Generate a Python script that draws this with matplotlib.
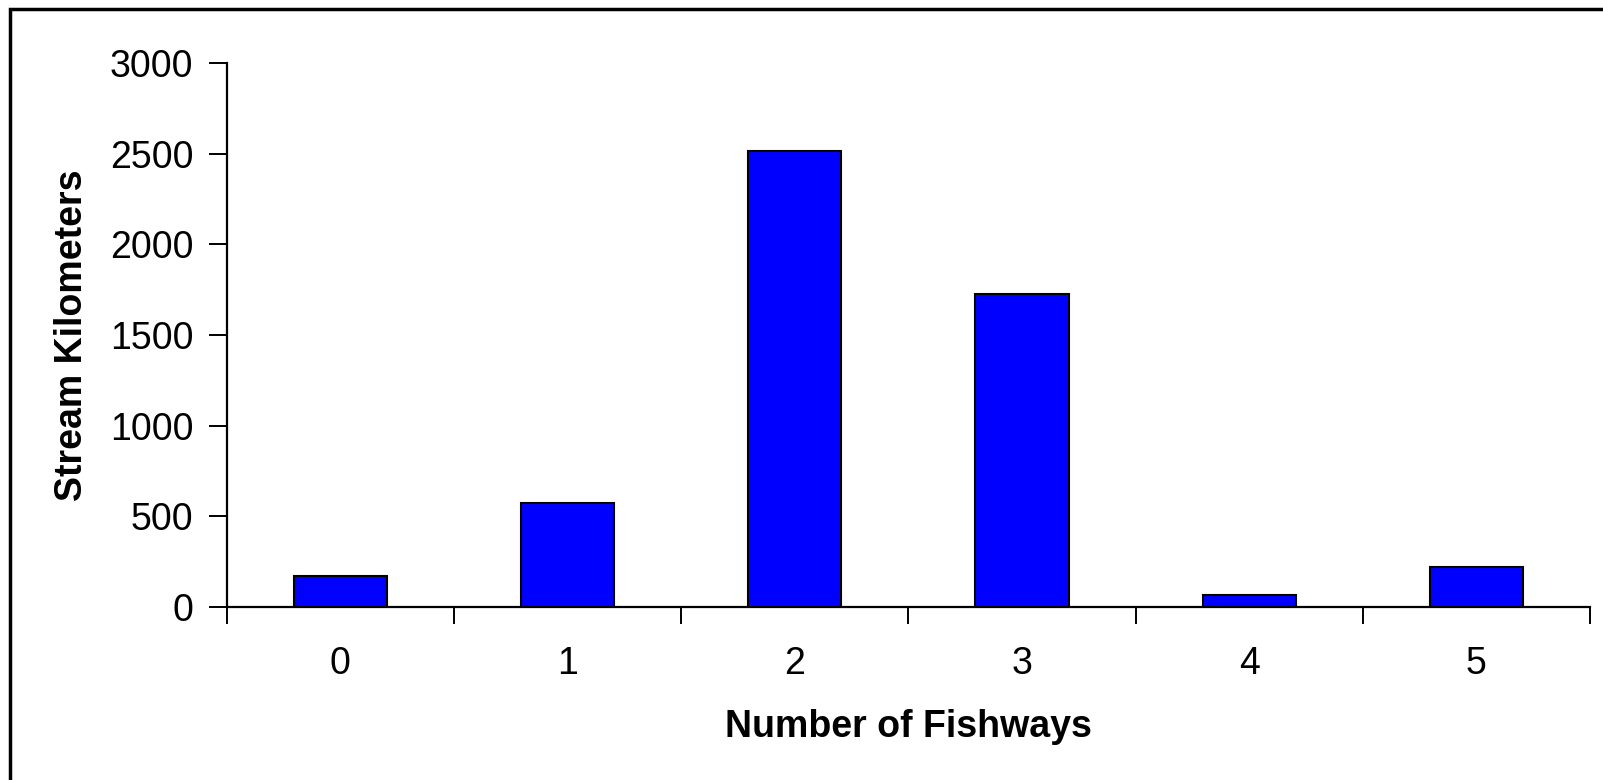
import numpy as np
import matplotlib
matplotlib.use("Agg")
import matplotlib.pyplot as plt
from matplotlib.patches import Rectangle

# values
fishways = ["0", "1", "2", "3", "4", "5"]
stream_km = [170, 571, 2516, 1725, 65, 221]
y_ticks = [0, 500, 1000, 1500, 2000, 2500, 3000]

plt.rcParams["font.family"] = ["Liberation Sans", "DejaVu Sans"]

fig = plt.figure(figsize=(16.03, 7.80), dpi=100)
ax = fig.add_axes([226.7 / 1603, 1 - 606.7 / 780, (1590 - 226.7) / 1603, (606.7 - 63.3) / 780])

x = np.arange(len(fishways))
ax.bar(x, stream_km, width=0.41, color="#0000ff", edgecolor="black", linewidth=1.5, zorder=3)

ax.set_xlim(-0.5, len(fishways) - 0.5)
ax.set_ylim(0, 3000)
ax.set_yticks(y_ticks)
ax.set_yticklabels([str(v) for v in y_ticks], fontsize=27)
ax.set_xticks(x)
ax.set_xticklabels(fishways, fontsize=27)
ax.set_xticks(np.arange(-0.5, len(fishways)), minor=True)

ax.tick_params(axis="y", direction="out", length=13, width=1.4, pad=11)
ax.tick_params(axis="x", which="major", length=0, pad=28)
ax.tick_params(axis="x", which="minor", direction="out", length=12, width=1.4)

for s in ["top", "right"]:
    ax.spines[s].set_visible(False)
for s in ["left", "bottom"]:
    ax.spines[s].set_linewidth(1.6)

ax.set_xlabel("Number of Fishways", fontsize=27, fontweight="bold", labelpad=20)
ax.set_ylabel("Stream Kilometers", fontsize=27, fontweight="bold", labelpad=14)

# outer frame around the chart area (cut off at right and bottom)
fig.patches.append(Rectangle((9.5 / 1603, -0.1), 1.2, 1 - 9.5 / 780 + 0.1,
                             transform=fig.transFigure, fill=False,
                             edgecolor="black", linewidth=2.5))

fig.savefig("out.png", dpi=100)
